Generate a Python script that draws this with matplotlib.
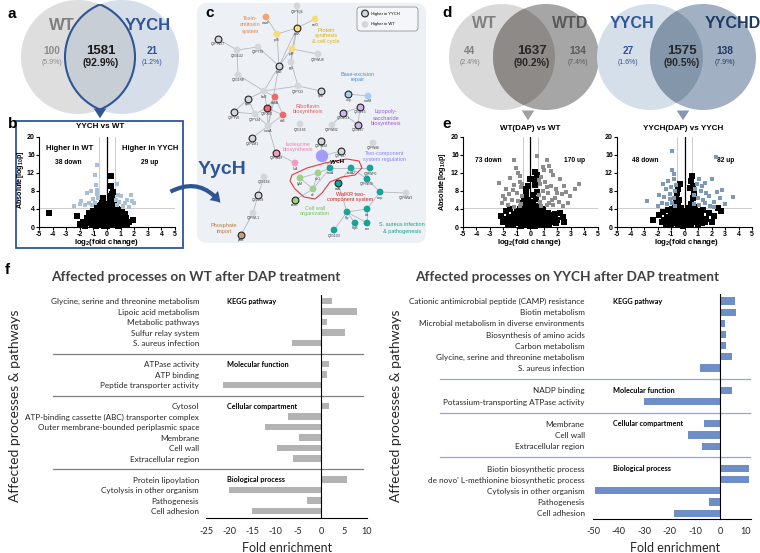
import matplotlib
matplotlib.use("Agg")
import matplotlib.pyplot as plt
from matplotlib.patches import Circle, FancyBboxPatch, Rectangle, FancyArrowPatch, Polygon
from matplotlib.transforms import blended_transform_factory

W, H = 760, 553
plt.rcParams['font.family'] = ['Liberation Sans', 'DejaVu Sans']
plt.rcParams['axes.unicode_minus'] = False
plt.rcParams['mathtext.default'] = 'regular'
F_LABEL = ['Lato', 'DejaVu Sans']
BLUE = '#2f5597'

# ---- panel a / d: venn counts
venn_a_sets = ["WT", "YYCH"]
venn_a_counts = [100, 1581, 21]
venn_a_pct = ["5.9%", "92.9%", "1.2%"]
venn_d1_sets = ["WT", "WTD"]
venn_d1_counts = [44, 1637, 134]
venn_d1_pct = ["2.4%", "90.2%", "7.4%"]
venn_d2_sets = ["YYCH", "YYCHD"]
venn_d2_counts = [27, 1575, 138]
venn_d2_pct = ["1.6%", "90.5%", "7.9%"]

# ---- volcano data (log2 fold change, -log10 p)
b_lo_x = [-1.6, -1.4, -1.3, -1.2, -1.1, -1.0, -0.9, -0.9, -0.8, -0.8, -0.7, -0.7, -0.6, -0.6, -0.6, -0.5, -0.5, -0.5,
          -0.4, -0.4, -0.4, -0.4, -0.3, -0.3, -0.3, -0.2, -0.2, -0.2, -0.2, -0.1, -0.1, -0.1, 0.0, 0.0, 0.0, 0.1, 0.1,
          0.1, 0.1, 0.2, 0.2, 0.2, 0.3, 0.3, 0.3, 0.3, 0.4, 0.4, 0.4, 0.4, 0.5, 0.5, 0.5, 0.6, 0.6, 0.6, 0.7, 0.7, 0.7,
          0.8, 0.8, 0.9, 0.9, 1.0, 1.0, 1.1, 1.2, 1.2, 1.3, 1.4, 1.5, 1.6, 1.9, -1.8, -2.0, -2.2, -1.5, -4.3, 0.28,
          0.32, 0.45, 0.35, -0.3, 0.25, 0.55, -0.45, 0.65, -0.7, 0.8, -1.0, 1.1, -1.3, 1.3,
          -0.15, 0.15, -0.35, 0.35, -0.55, 0.55, -0.75, 0.75, -0.95, 0.95, -0.05, 0.05, -0.25, 0.25]
b_lo_y = [0.3, 0.8, 1.5, 2.2, 0.5, 1.1, 1.8, 2.9, 0.2, 3.6, 1.3, 2.5, 0.6, 3.1, 4.0, 1.9, 2.8, 4.6,
          0.4, 1.4, 3.4, 5.3, 0.9, 2.2, 4.1, 0.2, 1.6, 2.9, 3.8, 0.7, 2.4, 4.4, 0.3, 1.2, 3.2, 0.6, 2.0,
          3.6, 5.0, 1.0, 2.6, 4.2, 0.4, 1.7, 3.0, 5.6, 0.8, 2.3, 3.9, 6.4, 1.3, 2.9, 4.6, 0.5, 2.0, 3.4, 1.0, 2.6, 4.0,
          0.3, 1.7, 1.2, 3.0, 0.6, 2.2, 1.5, 0.4, 2.7, 1.0, 1.9, 0.5, 1.2, 1.6, 1.0, 0.6, 2.4, 2.0, 3.0, 9.0,
          11.3, 7.8, 7.2, 6.4, 6.9, 5.5, 4.9, 4.4, 4.3, 3.8, 3.5, 3.3, 3.0, 2.8,
          1.0, 1.4, 1.8, 2.4, 2.2, 1.1, 0.7, 2.0, 2.3, 1.4, 3.8, 2.9, 3.1, 3.4]
b_hi_x = [-0.72, -0.85, -0.8, -1.2, -1.5, -1.9, -2.0, -1.0, -0.7, -1.3, -1.6, -0.65, -2.4, -1.1, -0.9,
          0.8, 1.0, 1.5, 1.75, 1.85, 1.3, 0.9, 0.7, 1.2, 0.65, 1.6, 2.0, -0.75, 0.75]
b_hi_y = [13.6, 11.5, 9.3, 8.0, 7.6, 5.8, 5.0, 6.1, 7.2, 5.2, 4.8, 6.5, 4.6, 4.9, 5.4,
          7.0, 6.8, 6.0, 7.0, 5.8, 5.2, 5.5, 4.8, 4.6, 6.0, 4.5, 5.3, 8.2, 9.4]

e1_lo_x = [-2.2, -2.0, -1.8, -1.7, -1.6, -1.5, -1.4, -1.3, -1.2, -1.1, -1.0, -1.0, -0.9, -0.8, -0.8, -0.7, -0.7,
           -0.6, -0.6, -0.5, -0.5, -0.5, -0.45, -0.4, -0.4, -0.35, -0.3, -0.3, -0.3, -0.2, -0.2, -0.2, -0.1, -0.1,
           -0.1, 0.0, 0.0, 0.0, 0.1, 0.1, 0.1, 0.15, 0.2, 0.2, 0.2, 0.3, 0.3, 0.3, 0.35, 0.4, 0.4, 0.4, 0.5, 0.5,
           0.5, 0.6, 0.6, 0.6, 0.7, 0.7, 0.8, 0.8, 0.9, 0.9, 1.0, 1.1, 1.2, 1.3, 1.4, 1.5, 1.6, 1.8, 2.0, 2.2, 2.4,
           2.5, -0.3, 0.25, 0.45, -0.15, 0.0, 0.3,
           -1.9, -1.55, -1.25, -0.95, -0.65, 0.65, 0.95, 1.25, 1.55, 1.9, -0.25, 0.25, -0.05, 0.05]
e1_lo_y = [2.5, 1.2, 3.6, 0.7, 2.2, 3.9, 1.5, 0.4, 2.9, 1.9, 3.6, 0.8, 2.4, 1.3, 4.0, 0.3, 3.0,
           1.8, 5.2, 0.7, 2.6, 4.4, 6.3, 1.4, 3.5, 7.4, 0.4, 2.2, 5.0, 1.1, 3.0, 6.0, 0.5, 1.8,
           4.0, 0.2, 1.2, 2.6, 0.6, 2.0, 3.4, 7.0, 1.0, 2.8, 5.4, 0.3, 1.6, 4.0, 9.3, 0.9, 2.4, 6.2, 1.4, 3.2,
           7.8, 0.5, 2.1, 4.6, 1.1, 3.4, 0.4, 2.5, 1.6, 3.9, 0.8, 2.2, 1.3, 3.2, 0.6, 2.0, 1.2, 2.8, 1.6, 3.0, 2.2,
           1.0, 8.4, 10.5, 11.6, 9.0, 10.7, 12.1,
           1.8, 1.0, 2.0, 3.1, 1.2, 1.9, 2.9, 0.6, 2.6, 0.8, 3.8, 3.2, 4.6, 5.6]
e1_hi_x = [0.5, -1.25, 1.2, -1.1, 1.4, -0.9, 1.0, -2.3, -1.5, -0.8, 0.8, 1.7, 2.2, 3.3, 3.6, 2.6, -1.8, -1.2,
           -0.7, 0.7, 1.1, 1.5, 1.9, 2.3, -2.0, -1.6, -1.0, -0.65, 0.65, 0.9, 1.3, 1.8, 2.1, 2.8, -2.1, -1.4,
           -0.9, -0.7, 0.7, 1.0, 1.4, 1.7, 2.4, -1.7, -1.2, -0.8, 0.8, 1.2, 1.6, 2.0, -1.3, 1.2, -0.75, 0.9,
           -0.6, 0.6, 2.5, 2.9, 1.5, -1.9]
e1_hi_y = [15.8, 14.7, 14.9, 13.0, 13.5, 12.0, 12.5, 9.8, 10.8, 10.0, 11.0, 11.5, 10.6, 8.3, 9.6, 7.7, 8.5, 9.3,
           8.8, 9.5, 10.0, 9.0, 8.4, 7.2, 6.9, 7.2, 7.5, 6.8, 7.1, 8.0, 7.6, 6.5, 5.6, 5.2, 5.4, 6.0,
           5.8, 5.0, 5.6, 6.3, 5.4, 4.8, 4.6, 4.8, 4.5, 4.7, 4.6, 4.9, 6.0, 7.5, 8.2, 8.8, 11.2, 13.2,
           9.6, 10.3, 9.0, 6.8, 12.3, 6.2]

e2_lo_x = [-1.9, -1.7, -1.6, -1.4, -1.3, -1.2, -1.1, -1.0, -1.0, -0.9, -0.9, -0.8, -0.8, -0.7, -0.7, -0.6, -0.6,
           -0.6, -0.55, -0.5, -0.5, -0.5, -0.4, -0.4, -0.4, -0.3, -0.3, -0.2, -0.2, -0.1, -0.1, 0.0, 0.0, 0.1, 0.1,
           0.2, 0.2, 0.3, 0.3, 0.3, 0.4, 0.4, 0.5, 0.5, 0.5, 0.6, 0.6, 0.6, 0.65, 0.55, 0.7, 0.7, 0.8, 0.8, 0.9,
           1.0, 1.0, 1.1, 1.2, 1.3, 1.4, 1.6, 1.8, 2.0, 2.2, 2.5, 2.7, -2.3, -0.45, 0.45, 0.4, -0.35,
           -1.5, -1.15, -0.85, -0.65, 0.65, 0.85, 1.15, 1.5, -0.25, 0.25, -0.05, 0.15]
e2_lo_y = [2.6, 1.0, 3.4, 0.6, 2.0, 3.8, 1.3, 0.4, 2.8, 1.7, 4.0, 0.8, 3.2, 2.2, 5.0, 1.2, 3.8,
           6.2, 7.5, 0.4, 2.6, 4.8, 1.6, 3.6, 6.0, 0.7, 2.3, 1.2, 3.2, 0.3, 2.0, 0.9, 2.6, 0.4, 1.6,
           1.1, 2.9, 0.5, 2.0, 4.2, 1.2, 3.3, 0.6, 2.4, 5.0, 1.6, 3.8, 6.3, 9.0, 11.2, 7.6, 2.8, 1.0, 4.4, 2.2,
           0.5, 3.5, 1.6, 2.8, 0.9, 3.7, 1.8, 3.0, 1.2, 2.4, 4.2, 3.6, 1.6, 8.3, 10.2, 8.6, 9.5,
           1.6, 2.3, 2.5, 3.0, 3.0, 2.5, 2.2, 1.2, 4.3, 3.9, 3.6, 2.2]
e2_hi_x = [-0.9, 2.3, -0.9, -0.8, -1.6, -2.8, 3.6, 2.8, 2.0, 1.5, 1.1, -1.2, -0.75, -1.4, -1.0, -0.7, -1.9,
           -1.5, -1.1, -0.8, 0.8, 1.2, 1.6, 2.4, 2.6, 0.7, 1.0, 1.4, 1.8, 2.2, 3.0, -1.7, -1.3, -0.9, -0.7,
           0.7, 1.1, 1.5, 1.9, 2.2, -2.0, -1.1, 1.3, 0.9, -0.65]
e2_hi_y = [16.7, 15.5, 12.6, 11.8, 9.5, 5.7, 6.6, 8.2, 10.7, 9.8, 10.5, 10.2, 10.7, 8.4, 8.8, 8.0, 7.0,
           6.6, 7.2, 6.5, 8.4, 8.0, 7.5, 7.8, 6.5, 7.0, 6.4, 6.0, 6.8, 5.6, 5.1, 5.3, 5.0, 5.4, 4.6,
           5.0, 4.8, 5.3, 4.7, 4.5, 4.6, 6.1, 9.0, 9.6, 9.3]

# ---- panel c network
node_names = ["Q2FYQ6", "mazF", "serD", "rplS", "rpsK", "rplF", "Q2FYV27", "Q2FYT8", "Q2G1U2", "Q2FWU8",
              "rpsE", "pgk", "Q2G1R8", "Q2FY23", "trpD", "ung", "mutM", "bioB", "ribBA", "Q2FX60",
              "ribE", "clpE", "Q2FYV6", "Q2FY24", "moaA", "Q2G1S5", "Q2FVM1", "Q2FWN2", "Q2FW04", "Q2FV27",
              "Q2FW86", "Q2G1G1", "Q2G1E5", "Q2G1E7", "yycH", "Q2FW49", "ilvA", "Q2G1E4", "Q2G0T8", "Q2FWL1",
              "pstB", "sle1", "lytM", "atl", "sasG", "ssaA", "ssaA2", "Q2FWP0", "srtA", "Q2FWN9",
              "emp", "Q2FWW1", "hlp", "sbi", "hlgB", "scn", "Q2G1D3"]
node_x = [297, 266, 315, 277, 297, 292, 218, 258, 237, 318,
          279, 291, 238, 298, 321, 348, 368, 264, 275, 267,
          283, 248, 234, 255, 268, 300, 252, 332, 321, 341,
          373, 343, 360, 358, 322, 276, 295, 264, 258, 253,
          241, 318, 300, 313, 295, 330, 351, 370, 338, 367,
          380, 406, 347, 367, 355, 367, 334]
node_y = [6, 17, 19, 34, 28, 49, 39, 47, 50, 54,
          66, 62, 75, 86, 91, 94, 96, 91, 97, 108,
          115, 99, 112, 114, 126, 124, 138, 125, 141, 151,
          143, 113, 107, 125, 156, 153, 163, 177, 195, 213,
          235, 173, 178, 189, 200, 168, 168, 168, 183, 179,
          192, 193, 212, 209, 223, 223, 230]
node_group = ["g", "o", "y", "y", "y", "y", "g", "g", "g", "g",
              "g", "g", "g", "g", "g", "b", "b", "g", "r", "r",
              "r", "g", "g", "g", "g", "g", "g", "g", "g", "g",
              "g", "p", "p", "p", "Y", "k", "k", "g", "g", "g",
              "B", "n", "n", "n", "n", "t", "t", "t", "t", "t",
              "t", "g", "t", "t", "t", "t", "t"]
node_up = [0, 0, 0, 0, 1, 0, 1, 0, 0, 0,
           1, 0, 0, 0, 1, 1, 0, 0, 0, 1,
           0, 1, 1, 0, 0, 0, 1, 0, 1, 1,
           0, 1, 1, 1, 0, 1, 0, 0, 1, 0,
           1, 0, 0, 0, 1, 0, 0, 0, 1, 0,
           0, 0, 0, 0, 0, 0, 0]
edges = [(1, 3), (0, 4), (2, 4), (3, 4), (4, 5), (3, 10), (4, 10), (4, 11), (5, 11), (5, 10), (5, 9),
         (6, 8), (8, 7), (7, 10), (8, 12), (10, 17), (10, 24), (17, 13), (13, 14), (13, 11), (15, 16),
         (17, 21), (17, 18), (17, 19), (18, 19), (18, 20), (19, 20), (18, 24), (19, 24), (20, 24), (21, 22),
         (21, 23), (23, 24), (22, 23), (19, 23), (24, 26), (24, 35), (35, 36), (31, 32), (32, 33), (31, 33),
         (28, 34), (29, 34), (41, 42), (41, 43), (42, 43), (43, 44), (43, 45), (41, 45), (45, 46), (46, 47),
         (46, 48), (46, 49), (47, 49), (49, 50), (50, 51), (48, 52), (50, 53), (52, 53), (52, 54), (52, 55),
         (53, 55), (52, 56), (37, 38), (38, 39), (39, 40), (34, 45), (12, 17), (27, 31)]
group_colors = {"g": "#d3d6da", "o": "#f2a56e", "y": "#f8dc78", "r": "#ee6a6a", "b": "#a8cdf2",
                "p": "#cdb6ea", "Y": "#a49cf8", "k": "#f39cc0", "n": "#9fd189", "t": "#18a397", "B": "#c9a07a"}
module_text = ["Toxin-\nantitoxin\nsystem", "Protein\nsynthesis\n& cell cycle", "Base-excision\nrepair",
               "Riboflavin\nbiosynthesis", "Lipopoly-\nsaccharide\nbiosynthesis", "Isoleucine\nbiosynthesis",
               "Two-component\nsystem regulation", "WalKR two-\ncomponent system", "Cell wall\norganization",
               "S. aureus infection\n& pathogenesis", "Phosphate\nimport"]
module_color = ["#e8823a", "#e0b000", "#4a8fd8", "#e8595b", "#9b59d0", "#f07fb0",
                "#8b83f0", "#d41f1f", "#79c25c", "#15a08f", "#b5783f"]
module_x = [250, 326, 358, 308, 386, 298, 385, 350, 315, 402, 224]
module_y = [25, 36, 77, 109, 118, 147, 156, 197, 211, 228, 229]
walkr_x = [292, 307, 325, 347, 359, 362, 355, 342, 330, 322, 315, 304, 295, 290]
walkr_y = [175, 168, 163, 159, 161, 168, 175, 177, 182, 193, 199, 197, 189, 181]

# ---- panel f: fold enrichment
group_names = ["KEGG pathway", "Molecular function", "Cellular compartment", "Biological process"]
wt_labels = [["Glycine, serine and threonine metabolism", "Lipoic acid metabolism", "Metabolic pathways",
              "Sulfur relay system", "S. aureus infection"],
             ["ATPase activity", "ATP binding", "Peptide transporter activity"],
             ["Cytosol", "ATP-binding cassette (ABC) transporter complex",
              "Outer membrane-bounded periplasmic space", "Membrane", "Cell wall", "Extracellular region"],
             ["Protein lipoylation", "Cytolysis in other organism", "Pathogenesis", "Cell adhesion"]]
wt_fe = [[2.4, 7.8, 1.2, 5.3, -6.4],
         [1.8, 1.3, -21.2],
         [1.7, -7.2, -12.1, -4.7, -9.6, -6.1],
         [5.7, -20.1, -3.0, -15.0]]
yych_labels = [["Cationic antimicrobial peptide (CAMP) resistance", "Biotin metabolism",
                "Microbial metabolism in diverse environments", "Biosynthesis of amino acids",
                "Carbon metabolism", "Glycine, serine and threonine metabolism", "S. aureus infection"],
               ["NADP binding", "Potassium-transporting ATPase activity"],
               ["Membrane", "Cell wall", "Extracellular region"],
               ["Biotin biosynthetic process", "de novo' L-methionine biosynthetic process",
                "Cytolysis in other organism", "Pathogenesis", "Cell adhesion"]]
yych_fe = [[5.8, 6.3, 1.8, 2.0, 2.2, 4.4, -8.2],
           [4.4, -30.1],
           [-6.3, -12.8, -7.3],
           [11.4, 11.4, -49.2, -4.3, -18.4]]

fig = plt.figure(figsize=(7.6, 5.53), dpi=100)
bg = fig.add_axes([0, 0, 1, 1])
bg.set_xlim(0, W)
bg.set_ylim(H, 0)
bg.axis('off')


def rect(l, t, r, b):
    return [l / W, 1 - b / H, (r - l) / W, (b - t) / H]


def venn(cx1, cx2, cy, r, c1, c2, c12, edge=None):
    a = Circle((cx1, cy), r, fc=c1, ec='none')
    b = Circle((cx2, cy), r, fc=c2, ec='none')
    bg.add_patch(a)
    bg.add_patch(b)
    lens = Circle((cx2, cy), r, fc=c12, ec='none')
    bg.add_patch(lens)
    lens.set_clip_path(a)
    if edge:
        e1 = Circle((cx1, cy), r, fc='none', ec=edge, lw=1.5)
        bg.add_patch(e1)
        e1.set_clip_path(b)
        e2 = Circle((cx2, cy), r, fc='none', ec=edge, lw=1.5)
        bg.add_patch(e2)
        e2.set_clip_path(a)


def venn_text(x, y, n, pct, col, big=False):
    bg.text(x, y, str(n), ha='center', va='center', color=col, fontweight='bold', fontsize=9.5 if big else 7.3)
    bg.text(x, y + 12, "(" + pct + ")", ha='center', va='center', color=col,
            fontweight='bold' if big else 'normal', fontsize=7.5 if big else 5)


def down_arrow(x, y0, y1, col):
    bg.annotate('', xy=(x, y1), xytext=(x, y0),
                arrowprops=dict(arrowstyle='simple,head_length=0.7,head_width=0.9,tail_width=0.35',
                                color=col, lw=0, mutation_scale=10))


# panel a
venn(78, 122, 57, 57, '#dedede', '#d6dfe9', '#c8ced6', edge=BLUE)
bg.text(62, 25, venn_a_sets[0], ha='center', va='center', color='#7f7f7f', fontweight='bold', fontsize=12)
bg.text(148, 25, venn_a_sets[1], ha='center', va='center', color=BLUE, fontweight='bold', fontsize=12)
venn_text(52, 51, venn_a_counts[0], venn_a_pct[0], '#8c8c8c')
venn_text(101, 51, venn_a_counts[1], venn_a_pct[1], '#1a1a1a', big=True)
venn_text(152, 51, venn_a_counts[2], venn_a_pct[2], BLUE)
down_arrow(100, 110, 121, BLUE)

# panel d
venn(502, 546, 57, 53, '#d9d9d9', '#a6a6a6', '#8e8a87')
bg.text(484, 24, venn_d1_sets[0], ha='center', va='center', color='#808080', fontweight='bold', fontsize=11.5)
bg.text(570, 24, venn_d1_sets[1], ha='center', va='center', color='#595959', fontweight='bold', fontsize=11.5)
venn_text(470, 51, venn_d1_counts[0], venn_d1_pct[0], '#808080')
venn_text(532, 51, venn_d1_counts[1], venn_d1_pct[1], '#262626', big=True)
venn_text(578, 51, venn_d1_counts[2], venn_d1_pct[2], '#595959')
venn(650, 703, 57, 53, '#d5dfe9', '#a1b1c3', '#8396aa')
bg.text(632, 24, venn_d2_sets[0], ha='center', va='center', color=BLUE, fontweight='bold', fontsize=11.5)
bg.text(733, 24, venn_d2_sets[1], ha='center', va='center', color='#1f3864', fontweight='bold', fontsize=11.5)
venn_text(628, 51, venn_d2_counts[0], venn_d2_pct[0], BLUE)
venn_text(682, 51, venn_d2_counts[1], venn_d2_pct[1], '#262626', big=True)
venn_text(725, 51, venn_d2_counts[2], venn_d2_pct[2], '#1f3864')
down_arrow(528, 109, 123, '#a0a0a0')
down_arrow(683, 109, 123, '#8497b0')

# panel labels
for lab, x, y in [("a", 8, 14), ("b", 8, 124), ("c", 205, 13), ("d", 442, 13), ("e", 442, 124), ("f", 5, 270)]:
    bg.text(x, y, lab, fontsize=11, fontweight='bold', ha='left', va='center', zorder=10)

# panel b frame
bg.add_patch(Rectangle((16, 121), 167, 127, fc='white', ec=BLUE, lw=1.3))

# panel c network
bg.add_patch(FancyBboxPatch((197, 3), 229, 240, boxstyle='round,pad=0,rounding_size=10', fc='#edf1f6', ec='none'))
for i, j in edges:
    bg.plot([node_x[i], node_x[j]], [node_y[i], node_y[j]], color='#b3b9c1', lw=0.6, zorder=2)
bg.add_patch(Polygon(list(zip(walkr_x, walkr_y)), closed=True, fc='none', ec='#e0393e', lw=0.8,
                     joinstyle='round', zorder=2))
for k in range(len(node_names)):
    big = node_group[k] == "Y"
    bg.scatter(node_x[k], node_y[k], s=80 if big else 24, c=group_colors[node_group[k]],
               edgecolors='#222222' if node_up[k] else 'none', linewidths=0.8, zorder=3)
    if not big:
        bg.text(node_x[k], node_y[k] + 5.5, node_names[k], fontsize=2.3, ha='center', va='center',
                color='#333333', zorder=4)
bg.text(330, 162, "yycH", fontsize=4.6, fontweight='bold', ha='left', va='center', zorder=4)
for t, c, x, y in zip(module_text, module_color, module_x, module_y):
    bg.text(x, y, t, fontsize=4, color=c, ha='center', va='center', linespacing=1.25, zorder=4)
bg.add_patch(FancyBboxPatch((357, 7), 61, 24, boxstyle='round,pad=0,rounding_size=3',
                            fc='#f4f6f9', ec='#7f7f7f', lw=0.5, zorder=3))
bg.scatter([365, 365], [13.5, 24.5], s=[24, 24], c=[group_colors["g"]] * 2,
           edgecolors=['#222222', 'none'], linewidths=0.8, zorder=4)
bg.text(371, 13.5, "Higher in YYCH", fontsize=3, va='center', zorder=4)
bg.text(371, 24.5, "Higher in WT", fontsize=3, va='center', zorder=4)
bg.text(198, 170, "YycH", fontsize=14, fontweight='bold', color=BLUE, va='center', ha='left', zorder=4)
bg.add_patch(FancyArrowPatch((168, 193), (222, 205), connectionstyle='arc3,rad=-0.45',
                             arrowstyle='simple,head_length=7,head_width=9,tail_width=3',
                             mutation_scale=1, color=BLUE, lw=0, zorder=5))


def volcano(l, r, lo_x, lo_y, hi_x, hi_y, hi_col):
    ax = fig.add_axes(rect(l, 136.5, r, 227))
    ax.patch.set_alpha(0)
    ax.set_xlim(-5, 5)
    ax.set_ylim(0, 20)
    ax.axhline(4.3, color='#cdcdcd', lw=0.7, zorder=0)
    ax.axvline(-0.58, color='#cdcdcd', lw=0.7, zorder=0)
    ax.axvline(0.58, color='#cdcdcd', lw=0.7, zorder=0)
    ax.scatter(lo_x, lo_y, s=13, c='black', marker='s', linewidths=0, zorder=2, clip_on=False)
    ax.scatter(hi_x, hi_y, s=5, c=hi_col, marker='s', linewidths=0, zorder=3)
    ax.axvline(0, color='black', lw=0.9, zorder=4)
    ax.set_xticks(range(-5, 6))
    ax.set_yticks(range(0, 21, 4))
    ax.tick_params(labelsize=5, length=2, width=0.8, pad=1)
    for lab in ax.get_xticklabels() + ax.get_yticklabels():
        lab.set_fontweight('bold')
    for s in ('top', 'right'):
        ax.spines[s].set_visible(False)
    for s in ('left', 'bottom'):
        ax.spines[s].set_linewidth(0.8)
    return ax


def vtext(x, y, s, size=5.5):
    bg.text(x, y, s, ha='center', va='center', fontweight='bold', fontsize=size)


volcano(39, 175, b_lo_x, b_lo_y, b_hi_x, b_hi_y, '#a9bfd3')
vtext(100, 127, "YYCH vs WT", 5.8)
vtext(70, 148, "Higher in WT")
vtext(68, 162, "38 down", 4.8)
vtext(150, 148, "Higher in YYCH")
vtext(150, 162, "29 up", 4.8)
vtext(107, 243, "log$_2$(fold change)", 5.6)
bg.text(21, 180, "Absolute[log$_{10}$p]", rotation=90, ha='center', va='center', fontweight='bold', fontsize=5.2)

volcano(463, 598, e1_lo_x, e1_lo_y, e1_hi_x, e1_hi_y, '#8c8c8c')
vtext(530, 128, "WT(DAP) vs WT", 5.8)
vtext(488, 161, "73 down", 4.8)
vtext(575, 161, "170 up", 4.8)
vtext(530, 243, "log$_2$(fold change)", 5.6)
bg.text(443, 182, "Absolute[log$_{10}$p]", rotation=90, ha='center', va='center', fontweight='bold', fontsize=5.2)

volcano(617, 752, e2_lo_x, e2_lo_y, e2_hi_x, e2_hi_y, '#7d99b7')
vtext(683, 128, "YYCH(DAP) vs YYCH", 5.8)
vtext(645, 161, "48 down", 4.8)
vtext(726, 161, "82 up", 4.8)
vtext(687, 243, "log$_2$(fold change)", 5.6)


def enrich(l, r, t, b, ylim, labels, values, color, sep_color, sep_l, sep_r, xlim, xticks, glab_x, pad):
    ax = fig.add_axes(rect(l, t, r, b))
    ax.patch.set_alpha(0)
    rows, names, vals, seps, grow = [], [], [], [], []
    pos = 0
    for gi, (labs, vs) in enumerate(zip(labels, values)):
        grow.append(pos)
        for lab, v in zip(labs, vs):
            rows.append(pos)
            names.append(lab)
            vals.append(v)
            pos += 1
        if gi < len(labels) - 1:
            seps.append(pos)
            pos += 1
    ax.barh(rows, vals, height=0.64, color=color, zorder=2)
    ax.set_yticks(rows, names, fontsize=5.9, family=F_LABEL, color='#262626')
    ax.set_ylim(ylim)
    ax.set_xlim(xlim)
    ax.set_xticks(xticks)
    ax.set_xticklabels([str(v) for v in xticks], fontsize=6.6, family=F_LABEL, color='#262626')
    ax.tick_params(axis='y', length=0, pad=pad)
    ax.tick_params(axis='x', length=0, pad=6)
    for s in ('top', 'right', 'left'):
        ax.spines[s].set_visible(False)
    ax.spines['bottom'].set_linewidth(0.8)
    ax.axvline(0, color='black', lw=0.8, zorder=3)
    tr = blended_transform_factory(fig.transFigure, ax.transData)
    for s in seps:
        ax.plot([sep_l / W, sep_r / W], [s, s], transform=tr, color=sep_color, lw=0.9, clip_on=False)
    for g, row in zip(group_names, grow):
        ax.text(glab_x / W, row, g, transform=tr, fontsize=5.2, fontweight='bold', family=F_LABEL,
                va='center', ha='left')
    return ax


enrich(206, 367, 294.7, 518.4, (20.7, -0.6), wt_labels, wt_fe, '#b3b3b3', '#7f7f7f', 53, 363,
       (-25, 10), [-25, -20, -15, -10, -5, 0, 5, 10], 227, 5)
enrich(593, 751, 294.3, 518.8, (19.5, -0.6), yych_labels, yych_fe, '#6d8ec6', '#8eaadb', 440, 750,
       (-50, 12), [-50, -40, -30, -20, -10, 0, 10], 613, 6)

bg.text(196, 277, "Affected processes on WT after DAP treatment", ha='center', va='center',
        fontsize=9.8, fontweight='bold', family=F_LABEL, color='#404040')
bg.text(567, 277, "Affected processes on YYCH after DAP treatment", ha='center', va='center',
        fontsize=9.8, fontweight='bold', family=F_LABEL, color='#404040')
for x in (15, 396):
    bg.text(x, 406, "Affected processes & pathways", rotation=90, ha='center', va='center',
            fontsize=10, family=F_LABEL, color='#262626')
bg.text(287, 548, "Fold enrichment", ha='center', va='center', fontsize=9, family=F_LABEL, color='#262626')
bg.text(675, 548, "Fold enrichment", ha='center', va='center', fontsize=9, family=F_LABEL, color='#262626')

fig.savefig("out.png", dpi=100)
